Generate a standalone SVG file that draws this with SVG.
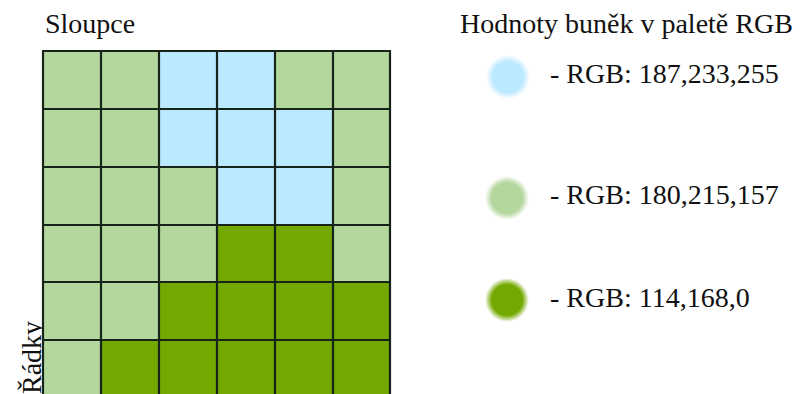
<svg xmlns="http://www.w3.org/2000/svg" width="804" height="394" viewBox="0 0 804 394">
<defs>
<radialGradient id="gb"><stop offset="0.7" stop-color="#bbe9ff"/><stop offset="1" stop-color="#bbe9ff" stop-opacity="0"/></radialGradient>
<radialGradient id="gl"><stop offset="0.7" stop-color="#b4d79d"/><stop offset="1" stop-color="#b4d79d" stop-opacity="0"/></radialGradient>
<radialGradient id="gd"><stop offset="0.7" stop-color="#72a800"/><stop offset="1" stop-color="#72a800" stop-opacity="0"/></radialGradient>
</defs>
<rect width="804" height="394" fill="#fff"/>
<g id="labels" font-family="Liberation Serif, Times New Roman, serif" font-size="28" fill="#111">
<text x="45" y="33">Sloupce</text>
<text transform="translate(41,394) rotate(-90)">Řádky</text>
</g>
<g id="grid">
<g id="row0">
<rect fill="#b4d79d" x="43" y="51" width="58" height="58"/><rect fill="#b4d79d" x="101" y="51" width="58" height="58"/><rect fill="#bbe9ff" x="159" y="51" width="58" height="58"/><rect fill="#bbe9ff" x="217" y="51" width="58" height="58"/><rect fill="#b4d79d" x="275" y="51" width="58" height="58"/><rect fill="#b4d79d" x="333" y="51" width="57" height="58"/>
</g>
<g id="row1">
<rect fill="#b4d79d" x="43" y="109" width="58" height="58"/><rect fill="#b4d79d" x="101" y="109" width="58" height="58"/><rect fill="#bbe9ff" x="159" y="109" width="58" height="58"/><rect fill="#bbe9ff" x="217" y="109" width="58" height="58"/><rect fill="#bbe9ff" x="275" y="109" width="58" height="58"/><rect fill="#b4d79d" x="333" y="109" width="57" height="58"/>
</g>
<g id="row2">
<rect fill="#b4d79d" x="43" y="167" width="58" height="58"/><rect fill="#b4d79d" x="101" y="167" width="58" height="58"/><rect fill="#b4d79d" x="159" y="167" width="58" height="58"/><rect fill="#bbe9ff" x="217" y="167" width="58" height="58"/><rect fill="#bbe9ff" x="275" y="167" width="58" height="58"/><rect fill="#b4d79d" x="333" y="167" width="57" height="58"/>
</g>
<g id="row3">
<rect fill="#b4d79d" x="43" y="225" width="58" height="57"/><rect fill="#b4d79d" x="101" y="225" width="58" height="57"/><rect fill="#b4d79d" x="159" y="225" width="58" height="57"/><rect fill="#72a800" x="217" y="225" width="58" height="57"/><rect fill="#72a800" x="275" y="225" width="58" height="57"/><rect fill="#b4d79d" x="333" y="225" width="57" height="57"/>
</g>
<g id="row4">
<rect fill="#b4d79d" x="43" y="282" width="58" height="58"/><rect fill="#b4d79d" x="101" y="282" width="58" height="58"/><rect fill="#72a800" x="159" y="282" width="58" height="58"/><rect fill="#72a800" x="217" y="282" width="58" height="58"/><rect fill="#72a800" x="275" y="282" width="58" height="58"/><rect fill="#72a800" x="333" y="282" width="57" height="58"/>
</g>
<g id="row5">
<rect fill="#b4d79d" x="43" y="340" width="58" height="58"/><rect fill="#72a800" x="101" y="340" width="58" height="58"/><rect fill="#72a800" x="159" y="340" width="58" height="58"/><rect fill="#72a800" x="217" y="340" width="58" height="58"/><rect fill="#72a800" x="275" y="340" width="58" height="58"/><rect fill="#72a800" x="333" y="340" width="57" height="58"/>
</g>
<path stroke="#17241a" stroke-width="2.2" fill="none" d="M43 51V400M101 51V400M159 51V400M217 51V400M275 51V400M333 51V400M390 51V400M42 51H391M42 109H391M42 167H391M42 225H391M42 282H391M42 340H391"/>
</g>
<g id="legend" font-family="Liberation Serif, Times New Roman, serif" font-size="28" fill="#111">
<text x="460" y="33">Hodnoty buněk v paletě RGB</text>
<g id="legend-blue"><circle fill="url(#gb)" cx="508" cy="77" r="22"/><text x="550" y="83">- RGB: 187,233,255</text></g>
<g id="legend-lightgreen"><circle fill="url(#gl)" cx="507" cy="198" r="22"/><text x="550" y="204">- RGB: 180,215,157</text></g>
<g id="legend-darkgreen"><circle fill="url(#gd)" cx="507" cy="300" r="22"/><text x="550" y="307">- RGB: 114,168,0</text></g>
</g>
</svg>
